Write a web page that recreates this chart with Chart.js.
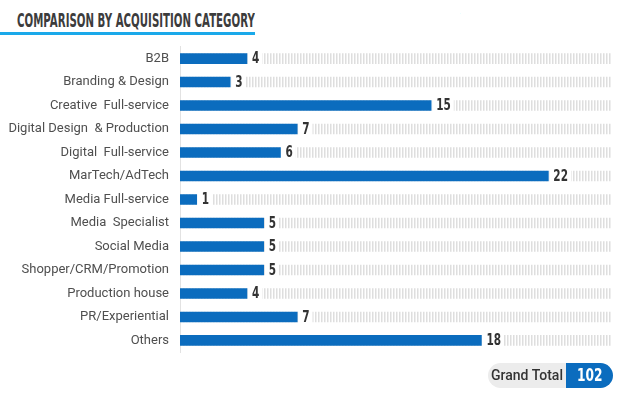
<!DOCTYPE html>
<html lang="en">
<head>
    <meta charset="UTF-8">
    <title>Comparison by Acquisition Category</title>
    <style>
        body { margin: 0; background: #fff; width: 640px; height: 397px; position: relative; overflow: hidden; }
        .title {
            position: absolute; left: 17px; top: 9px; white-space: nowrap; transform-origin: left top;
            font-family: "DejaVu Sans", sans-serif;
            font-weight: bold; font-size: 19px; color: #3c3c3c;
        }
        .rule { position: absolute; left: 0; top: 32px; width: 255px; height: 3px; background: #1aa9ea; }
        .chart-box { position: absolute; left: 0; top: 28px; width: 640px; height: 343px; }
        .pill { position: absolute; left: 488px; top: 363px; height: 25px; display: flex; font-family: Roboto, sans-serif; }
        .pill .lbl { background: #ececec; color: #333; font-size: 14px; font-weight: 500; line-height: 25px; width: 78px; text-align: center; border-radius: 13px 0 0 13px; }
        .pill .val { background: #0b6cbe; width: 47px; line-height: 25px; border-radius: 0 13px 13px 0; text-align: center; }
        .pill .val span { display: inline-block; color: #fff; font-family: "DejaVu Sans", sans-serif; font-weight: bold; font-size: 17px; transform: scaleX(0.72); }
    </style>
</head>
<body>
    <div class="title" id="title">COMPARISON BY ACQUISITION CATEGORY</div>
    <div class="rule"></div>
    <div class="chart-box"><canvas id="myChart" width="640" height="343"></canvas></div>
    <div class="pill"><div class="lbl">Grand Total</div><div class="val"><span id="total"></span></div></div>

    <script src="https://cdn.jsdelivr.net/npm/chart.js@4.4.0/dist/chart.umd.min.js"></script>
    <script>
        var categories = ["B2B", "Branding & Design", "Creative  Full-service", "Digital Design  & Production",
            "Digital  Full-service", "MarTech/AdTech", "Media Full-service", "Media  Specialist", "Social Media",
            "Shopper/CRM/Promotion", "Production house", "PR/Experiential", "Others"];
        var counts = [4, 3, 15, 7, 6, 22, 1, 5, 5, 5, 4, 7, 18];
        var trackMax = 25.8;

        document.getElementById("total").textContent = counts.reduce(function (a, b) { return a + b; }, 0);

        // squeeze the title into the condensed look of the original
        var t = document.getElementById("title");
        t.style.transform = "scaleX(" + (238 / t.offsetWidth) + ")";

        // striped background track
        function stripes() {
            var c = document.createElement("canvas");
            c.width = 3; c.height = 10;
            var g = c.getContext("2d");
            g.fillStyle = "#fff";
            g.fillRect(0, 0, 3, 10);
            g.fillStyle = "#dedede";
            g.fillRect(0, 0, 1.5, 10);
            return g.createPattern(c, "repeat");
        }

        var valueLabels = {
            id: "valueLabels",
            afterDatasetsDraw: function (chart) {
                var ctx = chart.ctx;
                var meta = chart.getDatasetMeta(0);
                ctx.save();
                ctx.font = 'bold 15px "DejaVu Sans", sans-serif';
                ctx.textBaseline = "middle";
                meta.data.forEach(function (bar, i) {
                    var w = ctx.measureText(counts[i]).width * 0.7;
                    ctx.fillStyle = "#fff";
                    ctx.fillRect(bar.x + 1, bar.y - 6, w + 7, 12);
                    ctx.save();
                    ctx.translate(bar.x + 5, bar.y + 1);
                    ctx.scale(0.7, 1);
                    ctx.fillStyle = "#333";
                    ctx.fillText(counts[i], 0, 0);
                    ctx.restore();
                });
                ctx.restore();
            }
        };

        var ctx = document.getElementById("myChart").getContext("2d");
        new Chart(ctx, {
            type: "bar",
            data: {
                labels: categories,
                datasets: [
                    { data: counts, backgroundColor: "#0b6cbe", barThickness: 10, order: 0 },
                    { data: categories.map(function () { return trackMax; }), backgroundColor: stripes(), barThickness: 10, order: 1 }
                ]
            },
            options: {
                indexAxis: "y",
                responsive: false,
                animation: false,
                layout: { padding: { top: 0, bottom: 0, right: 28 } },
                plugins: { legend: { display: false }, tooltip: { enabled: false } },
                datasets: { bar: { grouped: false } },
                scales: {
                    x: { display: false, min: 0, max: trackMax },
                    y: {
                        grid: { display: false, drawTicks: false },
                        border: { display: true, color: "#e2e2e2", width: 1 },
                        afterFit: function (scale) { scale.width = 180; },
                        ticks: { color: "#4f4f4f", padding: 11, font: { family: "Roboto", size: 13, weight: 400 } }
                    }
                }
            },
            plugins: [valueLabels]
        });
    </script>
</body>
</html>
